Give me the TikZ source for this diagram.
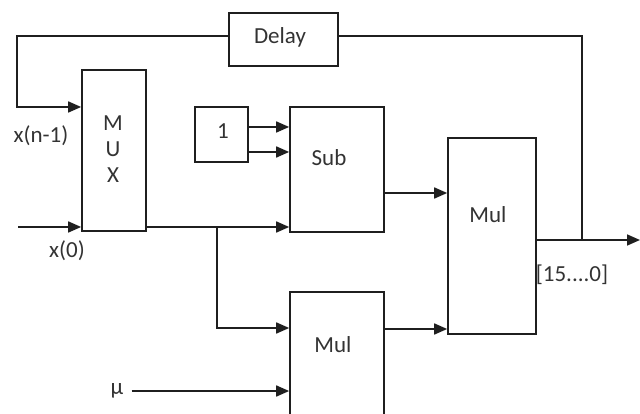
\documentclass[tikz,border=0pt]{standalone}
\usepackage{fontspec}
\setmainfont{Carlito}
\usetikzlibrary{arrows.meta}
\begin{document}
\begin{tikzpicture}[x=1pt,y=-1pt,
  line/.style={draw=black!88, line width=1.7pt},
  arr/.style={line, -{Triangle[length=13pt,width=11pt]}},
  blk/.style={draw=black!88, line width=1.7pt, inner sep=0pt, fill=white},
  txt/.style={font=\fontsize{23}{27}\selectfont, text=black!80, inner sep=0pt}]
\useasboundingbox (0,0) rectangle (640,414);
\clip (0,0) rectangle (640,414);
% blocks
\node[blk, minimum width=109pt, minimum height=53pt] (delay) at (283.5,39.5) {};
\node[txt] (delayt) at (280,37) {Delay};
\node[blk, minimum width=64pt, minimum height=161pt] (mux) at (114,150.5) {};
\node[txt, align=center, font=\fontsize{23}{26}\selectfont] (muxt) at (113,149) {M\\U\\X};
\node[blk, minimum width=53pt, minimum height=55pt] (one) at (221.5,134.5) {};
\node[txt] (onet) at (223,131) {1};
\node[blk, minimum width=94pt, minimum height=125pt] (sub) at (337,169.5) {};
\node[txt] (subt) at (329,158) {Sub};
\node[blk, minimum width=94pt, minimum height=140pt] (mulB) at (337,362) {};
\node[txt] (mulBt) at (333,345) {Mul};
\node[blk, minimum width=88pt, minimum height=196pt] (mulR) at (492,236) {};
\node[txt] (mulRt) at (488,215) {Mul};
% labels
\node[txt] (lxn) at (41,136) {x(n-1)};
\node[txt] (lx0) at (67,251) {x(0)};
\node[txt] (lout) at (572,275) {[15....0]};
\node[txt] (mu) at (117,391) {μ};
% coordinates
\coordinate (fbL) at (17,36);
\coordinate (fbR) at (582,36);
\coordinate (xin1) at (17,107);
\coordinate (xin0) at (18,227);
\coordinate (br) at (217,227);
\coordinate (brd) at (217,328);
\coordinate (mbo) at (384,329);
\coordinate (out) at (640,240);
% connectors
\draw[arr] (delay.west |- fbL) -- (fbL) -- (xin1) -- (xin1 -| mux.west);
\draw[line] (delay.east |- fbR) -- (fbR) -- (fbR |- out);
\draw[arr] (xin0) -- (xin0 -| mux.west);
\draw[arr] (mux.east |- xin0) -- (xin0 -| sub.west);
\draw[arr] (br) -- (brd) -- (brd -| mulB.west);
\draw[arr] ([yshift=7.5pt]one.east) -- ([yshift=7.5pt]one.east -| sub.west);
\draw[arr] ([yshift=-17.5pt]one.east) -- ([yshift=-17.5pt]one.east -| sub.west);
\draw[arr] ([yshift=-23.5pt]sub.east) -- ([yshift=-23.5pt]sub.east -| mulR.west);
\draw[arr] (mbo) -- (mbo -| mulR.west);
\draw[arr] (mu.east) ++(8,0) -- (mu -| mulB.west);
\draw[arr] (mulR.east |- out) -- (out);
\end{tikzpicture}
\end{document}
